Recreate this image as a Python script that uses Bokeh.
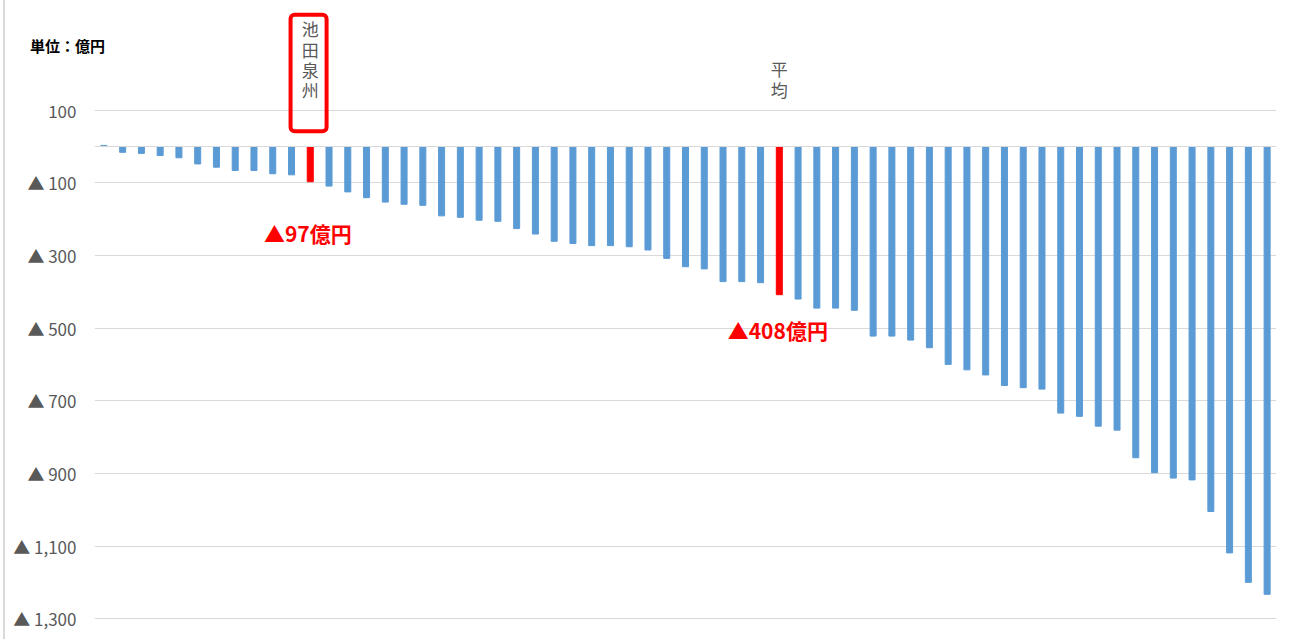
from bokeh.plotting import figure
from bokeh.models import Range1d, FixedTicker, Span, BoxAnnotation, Div, ColumnDataSource
from bokeh.layouts import row
from bokeh.embed import file_html
from bokeh.resources import INLINE
from bokeh.core.properties import value

# ---- data (億円) ----
values = [3, -16, -19, -25, -31, -48, -57, -66, -66, -75, -78, -97, -109, -125, -141,
          -153, -159, -162, -191, -195, -203, -206, -226, -241, -261, -267, -273, -273,
          -276, -285, -308, -331, -337, -372, -372, -375, -408, -420, -445, -445, -451,
          -522, -522, -533, -554, -600, -615, -629, -658, -664, -668, -734, -743, -770,
          -781, -857, -898, -913, -918, -1005, -1119, -1200, -1233]
highlight_names = ["池田泉州", "平均"]
highlight_pos = [12, 37]
highlight_labels = ["▲97億円", "▲408億円"]
tick_values = [100, -100, -300, -500, -700, -900, -1100, -1300]
tick_labels = ["100", "▲ 100", "▲ 300", "▲ 500", "▲ 700", "▲ 900", "▲ 1,100", "▲ 1,300"]
unit_text = "単位：億円"

BLUE = "#5B9BD5"
RED = "#FF0000"
GRAY = "#595959"
FONT = "Noto Sans CJK JP"

xs = list(range(1, len(values) + 1))
colors = [RED if x in highlight_pos else BLUE for x in xs]
src = ColumnDataSource(dict(x=xs, top=values, color=colors))

p = figure(width=1291, height=639, output_backend="svg", toolbar_location=None,
           x_range=Range1d(0.5, 63.5), y_range=Range1d(-1357.4, 402),
           x_axis_location=None, min_border_left=89, min_border_right=20,
           min_border_top=0, min_border_bottom=0)
p.outline_line_color = None
p.background_fill_color = "white"

p.vbar(x="x", top="top", bottom=0, width=0.32, color="color", source=src)

# axis
p.yaxis.ticker = FixedTicker(ticks=tick_values)
p.yaxis.major_label_overrides = {v: t for v, t in zip(tick_values, tick_labels)}
p.yaxis.axis_line_color = None
p.yaxis.major_tick_line_color = None
p.yaxis.minor_tick_line_color = None
p.yaxis.major_label_text_font = FONT
p.yaxis.major_label_text_font_size = "17px"
p.yaxis.major_label_text_color = GRAY
p.yaxis.major_label_standoff = 12
p.xgrid.visible = False
p.ygrid.grid_line_color = "#d9d9d9"
p.ygrid.grid_line_width = 1
p.add_layout(Span(location=0, dimension="width", line_color="#d9d9d9", line_width=1))

# vertical category labels above
p.text(x=highlight_pos, y=[358, 248], text=["\n".join(n) for n in highlight_names],
       text_font=value(FONT), text_font_size="17px", text_color=GRAY,
       text_align="center", text_baseline="top", text_line_height=0.81)

# red box around 池田泉州
p.add_layout(BoxAnnotation(left=10.95, right=12.87, top=363, bottom=42,
                           fill_alpha=0, line_color=RED, line_alpha=1.0,
                           line_width=4, border_radius=4))

# value annotations
p.text(x=[11.87, 36.92], y=[-236.8, -506.6], text=highlight_labels,
       text_font=value(FONT), text_font_size="21px", text_font_style="bold",
       text_color=RED, text_align="center", text_baseline="middle")

unit_html = ('<div style="position:absolute;left:30px;top:37px;white-space:nowrap;'
             "font-family:'Noto Sans CJK JP',sans-serif;font-size:15px;font-weight:bold;"
             'color:black;line-height:18px;">' + unit_text + '</div>')
edge = Div(text=unit_html, width=5, height=639, margin=0,
           styles={"border-right": "2px solid #d9d9d9", "overflow": "visible",
                   "z-index": "5", "position": "relative"})
layout = row(edge, p, spacing=0)

open("out.html", "w").write(file_html(layout, INLINE))
